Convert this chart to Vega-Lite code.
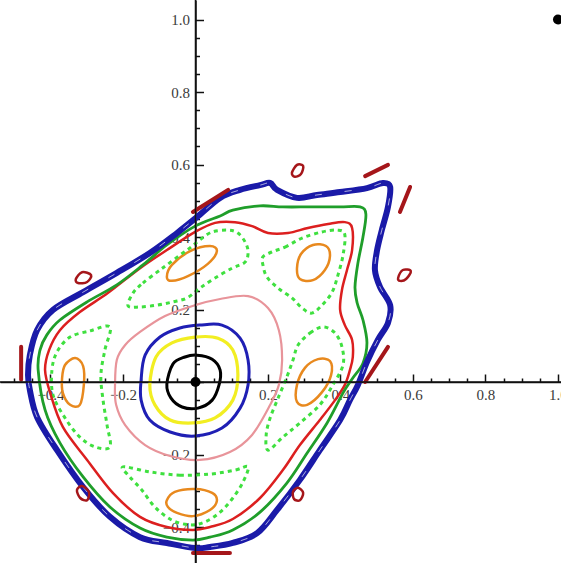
{
  "$schema": "https://vega.github.io/schema/vega-lite/v6.json",
  "width": 561,
  "height": 563,
  "autosize": "none",
  "padding": 0,
  "background": "white",
  "config": {"view": {"stroke": null}, "axis": {"labelFontSize": 15, "labelFont": "Liberation Serif"}},
  "datasets": {
    "black": [
      {"i":0,"x":-0.079,"y":-0.006},{"i":1,"x":-0.062,"y":0.050},{"i":2,"x":-0.029,"y":0.069},{"i":3,"x":0.004,"y":0.074},{"i":4,"x":0.046,"y":0.063},{"i":5,"x":0.068,"y":0.033},{"i":6,"x":0.065,"y":-0.008},{"i":7,"x":0.046,"y":-0.050},{"i":8,"x":0.007,"y":-0.072},{"i":9,"x":-0.037,"y":-0.069},{"i":10,"x":-0.068,"y":-0.044},{"i":11,"x":-0.079,"y":-0.006}
    ],
    "yellow": [
      {"i":0,"x":-0.126,"y":-0.008},{"i":1,"x":-0.109,"y":0.069},{"i":2,"x":-0.065,"y":0.108},{"i":3,"x":-0.001,"y":0.124},{"i":4,"x":0.062,"y":0.121},{"i":5,"x":0.103,"y":0.088},{"i":6,"x":0.117,"y":0.019},{"i":7,"x":0.103,"y":-0.050},{"i":8,"x":0.054,"y":-0.099},{"i":9,"x":-0.007,"y":-0.113},{"i":10,"x":-0.070,"y":-0.105},{"i":11,"x":-0.112,"y":-0.063},{"i":12,"x":-0.126,"y":-0.008}
    ],
    "blueIn": [
      {"i":0,"x":-0.150,"y":0.006},{"i":1,"x":-0.139,"y":0.074},{"i":2,"x":-0.098,"y":0.124},{"i":3,"x":-0.043,"y":0.149},{"i":4,"x":0.012,"y":0.157},{"i":5,"x":0.073,"y":0.157},{"i":6,"x":0.123,"y":0.121},{"i":7,"x":0.145,"y":0.061},{"i":8,"x":0.145,"y":-0.008},{"i":9,"x":0.123,"y":-0.072},{"i":10,"x":0.073,"y":-0.127},{"i":11,"x":-0.001,"y":-0.149},{"i":12,"x":-0.070,"y":-0.138},{"i":13,"x":-0.126,"y":-0.105},{"i":14,"x":-0.150,"y":-0.050},{"i":15,"x":-0.150,"y":0.006}
    ],
    "pink": [
      {"i":0,"x":-0.222,"y":-0.008},{"i":1,"x":-0.217,"y":0.061},{"i":2,"x":-0.194,"y":0.102},{"i":3,"x":-0.153,"y":0.138},{"i":4,"x":-0.084,"y":0.182},{"i":5,"x":-0.001,"y":0.212},{"i":6,"x":0.068,"y":0.229},{"i":7,"x":0.145,"y":0.237},{"i":8,"x":0.200,"y":0.204},{"i":9,"x":0.230,"y":0.143},{"i":10,"x":0.239,"y":0.061},{"i":11,"x":0.230,"y":-0.008},{"i":12,"x":0.206,"y":-0.063},{"i":13,"x":0.156,"y":-0.146},{"i":14,"x":0.095,"y":-0.193},{"i":15,"x":0.012,"y":-0.215},{"i":16,"x":-0.070,"y":-0.204},{"i":17,"x":-0.139,"y":-0.174},{"i":18,"x":-0.194,"y":-0.119},{"i":19,"x":-0.219,"y":-0.063},{"i":20,"x":-0.222,"y":-0.008}
    ],
    "orange": [
      {"id":1,"i":0,"x":-0.079,"y":0.290},{"id":1,"i":1,"x":-0.065,"y":0.323},{"id":1,"i":2,"x":-0.015,"y":0.361},{"id":1,"i":3,"x":0.040,"y":0.375},{"id":1,"i":4,"x":0.059,"y":0.361},{"id":1,"i":5,"x":0.034,"y":0.326},{"id":1,"i":6,"x":-0.021,"y":0.292},{"id":1,"i":7,"x":-0.065,"y":0.279},{"id":1,"i":8,"x":-0.079,"y":0.290},
      {"id":2,"i":0,"x":0.280,"y":0.314},{"id":2,"i":1,"x":0.291,"y":0.353},{"id":2,"i":2,"x":0.324,"y":0.378},{"id":2,"i":3,"x":0.360,"y":0.375},{"id":2,"i":4,"x":0.371,"y":0.348},{"id":2,"i":5,"x":0.357,"y":0.309},{"id":2,"i":6,"x":0.324,"y":0.281},{"id":2,"i":7,"x":0.288,"y":0.284},{"id":2,"i":8,"x":0.280,"y":0.314},
      {"id":3,"i":0,"x":-0.368,"y":0.011},{"id":3,"i":1,"x":-0.360,"y":0.047},{"id":3,"i":2,"x":-0.332,"y":0.066},{"id":3,"i":3,"x":-0.310,"y":0.044},{"id":3,"i":4,"x":-0.308,"y":-0.008},{"id":3,"i":5,"x":-0.319,"y":-0.063},{"id":3,"i":6,"x":-0.346,"y":-0.063},{"id":3,"i":7,"x":-0.366,"y":-0.030},{"id":3,"i":8,"x":-0.368,"y":0.011},
      {"id":4,"i":0,"x":0.280,"y":-0.055},{"id":4,"i":1,"x":0.280,"y":-0.008},{"id":4,"i":2,"x":0.302,"y":0.039},{"id":4,"i":3,"x":0.338,"y":0.063},{"id":4,"i":4,"x":0.371,"y":0.058},{"id":4,"i":5,"x":0.374,"y":0.019},{"id":4,"i":6,"x":0.349,"y":-0.028},{"id":4,"i":7,"x":0.308,"y":-0.063},{"id":4,"i":8,"x":0.280,"y":-0.055},
      {"id":5,"i":0,"x":-0.079,"y":-0.326},{"id":5,"i":1,"x":-0.057,"y":-0.303},{"id":5,"i":2,"x":-0.001,"y":-0.295},{"id":5,"i":3,"x":0.046,"y":-0.306},{"id":5,"i":4,"x":0.059,"y":-0.328},{"id":5,"i":5,"x":0.040,"y":-0.353},{"id":5,"i":6,"x":-0.007,"y":-0.370},{"id":5,"i":7,"x":-0.051,"y":-0.361},{"id":5,"i":8,"x":-0.076,"y":-0.345},{"id":5,"i":9,"x":-0.079,"y":-0.326}
    ],
    "dashed": [
      {"id":1,"i":0,"x":-0.186,"y":0.210},{"id":1,"i":1,"x":-0.172,"y":0.246},{"id":1,"i":2,"x":-0.145,"y":0.273},{"id":1,"i":3,"x":-0.106,"y":0.303},{"id":1,"i":4,"x":-0.079,"y":0.323},{"id":1,"i":5,"x":-0.043,"y":0.350},{"id":1,"i":6,"x":-0.015,"y":0.370},{"id":1,"i":7,"x":0.012,"y":0.392},{"id":1,"i":8,"x":0.046,"y":0.414},{"id":1,"i":9,"x":0.090,"y":0.419},{"id":1,"i":10,"x":0.117,"y":0.411},{"id":1,"i":11,"x":0.137,"y":0.386},{"id":1,"i":12,"x":0.145,"y":0.359},{"id":1,"i":13,"x":0.137,"y":0.331},{"id":1,"i":14,"x":0.101,"y":0.314},{"id":1,"i":15,"x":0.054,"y":0.287},{"id":1,"i":16,"x":0.012,"y":0.259},{"id":1,"i":17,"x":-0.023,"y":0.232},{"id":1,"i":18,"x":-0.062,"y":0.221},{"id":1,"i":19,"x":-0.106,"y":0.212},{"id":1,"i":20,"x":-0.153,"y":0.207},{"id":1,"i":21,"x":-0.186,"y":0.210},
      {"id":2,"i":0,"x":0.186,"y":0.345},{"id":2,"i":1,"x":0.211,"y":0.359},{"id":2,"i":2,"x":0.247,"y":0.372},{"id":2,"i":3,"x":0.294,"y":0.397},{"id":2,"i":4,"x":0.349,"y":0.414},{"id":2,"i":5,"x":0.393,"y":0.419},{"id":2,"i":6,"x":0.412,"y":0.406},{"id":2,"i":7,"x":0.407,"y":0.350},{"id":2,"i":8,"x":0.393,"y":0.295},{"id":2,"i":9,"x":0.377,"y":0.248},{"id":2,"i":10,"x":0.349,"y":0.212},{"id":2,"i":11,"x":0.321,"y":0.190},{"id":2,"i":12,"x":0.294,"y":0.204},{"id":2,"i":13,"x":0.266,"y":0.232},{"id":2,"i":14,"x":0.228,"y":0.259},{"id":2,"i":15,"x":0.197,"y":0.290},{"id":2,"i":16,"x":0.186,"y":0.323},{"id":2,"i":17,"x":0.186,"y":0.345},
      {"id":3,"i":0,"x":-0.382,"y":0.083},{"id":3,"i":1,"x":-0.346,"y":0.124},{"id":3,"i":2,"x":-0.291,"y":0.141},{"id":3,"i":3,"x":-0.236,"y":0.152},{"id":3,"i":4,"x":-0.250,"y":0.088},{"id":3,"i":5,"x":-0.261,"y":0.019},{"id":3,"i":6,"x":-0.255,"y":-0.050},{"id":3,"i":7,"x":-0.244,"y":-0.119},{"id":3,"i":8,"x":-0.236,"y":-0.179},{"id":3,"i":9,"x":-0.277,"y":-0.179},{"id":3,"i":10,"x":-0.319,"y":-0.152},{"id":3,"i":11,"x":-0.360,"y":-0.099},{"id":3,"i":12,"x":-0.393,"y":-0.036},{"id":3,"i":13,"x":-0.396,"y":0.033},{"id":3,"i":14,"x":-0.382,"y":0.083},
      {"id":4,"i":0,"x":0.269,"y":0.061},{"id":4,"i":1,"x":0.283,"y":0.102},{"id":4,"i":2,"x":0.316,"y":0.135},{"id":4,"i":3,"x":0.352,"y":0.152},{"id":4,"i":4,"x":0.385,"y":0.135},{"id":4,"i":5,"x":0.404,"y":0.097},{"id":4,"i":6,"x":0.407,"y":0.047},{"id":4,"i":7,"x":0.379,"y":-0.008},{"id":4,"i":8,"x":0.343,"y":-0.063},{"id":4,"i":9,"x":0.288,"y":-0.113},{"id":4,"i":10,"x":0.241,"y":-0.152},{"id":4,"i":11,"x":0.200,"y":-0.188},{"id":4,"i":12,"x":0.195,"y":-0.146},{"id":4,"i":13,"x":0.206,"y":-0.099},{"id":4,"i":14,"x":0.228,"y":-0.044},{"id":4,"i":15,"x":0.252,"y":0.014},{"id":4,"i":16,"x":0.269,"y":0.061},
      {"id":5,"i":0,"x":-0.200,"y":-0.234},{"id":5,"i":1,"x":-0.126,"y":-0.248},{"id":5,"i":2,"x":-0.043,"y":-0.257},{"id":5,"i":3,"x":0.040,"y":-0.254},{"id":5,"i":4,"x":0.109,"y":-0.243},{"id":5,"i":5,"x":0.145,"y":-0.234},{"id":5,"i":6,"x":0.131,"y":-0.276},{"id":5,"i":7,"x":0.103,"y":-0.320},{"id":5,"i":8,"x":0.068,"y":-0.359},{"id":5,"i":9,"x":0.026,"y":-0.386},{"id":5,"i":10,"x":-0.015,"y":-0.394},{"id":5,"i":11,"x":-0.065,"y":-0.381},{"id":5,"i":12,"x":-0.112,"y":-0.345},{"id":5,"i":13,"x":-0.148,"y":-0.298},{"id":5,"i":14,"x":-0.181,"y":-0.262},{"id":5,"i":15,"x":-0.200,"y":-0.234}
    ],
    "red": [
      {"i":0,"x":-0.415,"y":0.033},{"i":1,"x":-0.404,"y":0.088},{"i":2,"x":-0.374,"y":0.143},{"i":3,"x":-0.319,"y":0.193},{"i":4,"x":-0.241,"y":0.246},{"i":5,"x":-0.153,"y":0.314},{"i":6,"x":-0.079,"y":0.364},{"i":7,"x":-0.001,"y":0.414},{"i":8,"x":0.054,"y":0.439},{"i":9,"x":0.109,"y":0.441},{"i":10,"x":0.156,"y":0.430},{"i":11,"x":0.200,"y":0.411},{"i":12,"x":0.255,"y":0.411},{"i":13,"x":0.310,"y":0.425},{"i":14,"x":0.366,"y":0.436},{"i":15,"x":0.412,"y":0.441},{"i":16,"x":0.432,"y":0.425},{"i":17,"x":0.432,"y":0.364},{"i":18,"x":0.418,"y":0.309},{"i":19,"x":0.404,"y":0.254},{"i":20,"x":0.399,"y":0.199},{"i":21,"x":0.412,"y":0.157},{"i":22,"x":0.432,"y":0.116},{"i":23,"x":0.434,"y":0.069},{"i":24,"x":0.426,"y":0.033},{"i":25,"x":0.412,"y":-0.008},{"i":26,"x":0.385,"y":-0.050},{"i":27,"x":0.343,"y":-0.105},{"i":28,"x":0.288,"y":-0.174},{"i":29,"x":0.241,"y":-0.243},{"i":30,"x":0.178,"y":-0.320},{"i":31,"x":0.103,"y":-0.378},{"i":32,"x":0.040,"y":-0.400},{"i":33,"x":-0.007,"y":-0.408},{"i":34,"x":-0.079,"y":-0.400},{"i":35,"x":-0.153,"y":-0.372},{"i":36,"x":-0.228,"y":-0.306},{"i":37,"x":-0.299,"y":-0.215},{"i":38,"x":-0.366,"y":-0.124},{"i":39,"x":-0.401,"y":-0.030},{"i":40,"x":-0.415,"y":0.033}
    ],
    "green": [
      {"i":0,"x":-0.434,"y":0.033},{"i":1,"x":-0.429,"y":0.088},{"i":2,"x":-0.410,"y":0.130},{"i":3,"x":-0.374,"y":0.171},{"i":4,"x":-0.299,"y":0.221},{"i":5,"x":-0.217,"y":0.268},{"i":6,"x":-0.145,"y":0.323},{"i":7,"x":-0.079,"y":0.378},{"i":8,"x":-0.001,"y":0.430},{"i":9,"x":0.068,"y":0.458},{"i":10,"x":0.103,"y":0.474},{"i":11,"x":0.178,"y":0.486},{"i":12,"x":0.241,"y":0.483},{"i":13,"x":0.316,"y":0.483},{"i":14,"x":0.399,"y":0.483},{"i":15,"x":0.454,"y":0.483},{"i":16,"x":0.470,"y":0.463},{"i":17,"x":0.462,"y":0.400},{"i":18,"x":0.448,"y":0.328},{"i":19,"x":0.440,"y":0.262},{"i":20,"x":0.446,"y":0.218},{"i":21,"x":0.462,"y":0.171},{"i":22,"x":0.473,"y":0.108},{"i":23,"x":0.462,"y":0.052},{"i":24,"x":0.434,"y":0.011},{"i":25,"x":0.407,"y":-0.030},{"i":26,"x":0.363,"y":-0.113},{"i":27,"x":0.308,"y":-0.196},{"i":28,"x":0.252,"y":-0.279},{"i":29,"x":0.178,"y":-0.359},{"i":30,"x":0.103,"y":-0.408},{"i":31,"x":0.040,"y":-0.428},{"i":32,"x":-0.007,"y":-0.436},{"i":33,"x":-0.079,"y":-0.428},{"i":34,"x":-0.153,"y":-0.403},{"i":35,"x":-0.236,"y":-0.345},{"i":36,"x":-0.310,"y":-0.262},{"i":37,"x":-0.374,"y":-0.168},{"i":38,"x":-0.415,"y":-0.077},{"i":39,"x":-0.434,"y":0.033}
    ],
    "blueOut": [
      {"i":0,"x":-0.462,"y":0.019},{"i":1,"x":-0.457,"y":0.074},{"i":2,"x":-0.437,"y":0.143},{"i":3,"x":-0.393,"y":0.199},{"i":4,"x":-0.310,"y":0.248},{"i":5,"x":-0.217,"y":0.301},{"i":6,"x":-0.126,"y":0.356},{"i":7,"x":-0.051,"y":0.411},{"i":8,"x":0.004,"y":0.455},{"i":9,"x":0.068,"y":0.508},{"i":10,"x":0.123,"y":0.530},{"i":11,"x":0.178,"y":0.543},{"i":12,"x":0.206,"y":0.549},{"i":13,"x":0.225,"y":0.530},{"i":14,"x":0.280,"y":0.508},{"i":15,"x":0.335,"y":0.516},{"i":16,"x":0.399,"y":0.524},{"i":17,"x":0.473,"y":0.535},{"i":18,"x":0.517,"y":0.549},{"i":19,"x":0.537,"y":0.538},{"i":20,"x":0.531,"y":0.483},{"i":21,"x":0.514,"y":0.419},{"i":22,"x":0.501,"y":0.364},{"i":23,"x":0.495,"y":0.309},{"i":24,"x":0.509,"y":0.262},{"i":25,"x":0.537,"y":0.212},{"i":26,"x":0.531,"y":0.163},{"i":27,"x":0.503,"y":0.116},{"i":28,"x":0.473,"y":0.055},{"i":29,"x":0.448,"y":-0.008},{"i":30,"x":0.426,"y":-0.050},{"i":31,"x":0.399,"y":-0.105},{"i":32,"x":0.343,"y":-0.188},{"i":33,"x":0.288,"y":-0.270},{"i":34,"x":0.225,"y":-0.353},{"i":35,"x":0.170,"y":-0.417},{"i":36,"x":0.103,"y":-0.444},{"i":37,"x":0.040,"y":-0.455},{"i":38,"x":-0.001,"y":-0.458},{"i":39,"x":-0.079,"y":-0.444},{"i":40,"x":-0.153,"y":-0.428},{"i":41,"x":-0.236,"y":-0.372},{"i":42,"x":-0.310,"y":-0.290},{"i":43,"x":-0.382,"y":-0.188},{"i":44,"x":-0.437,"y":-0.097},{"i":45,"x":-0.457,"y":-0.022},{"i":46,"x":-0.462,"y":0.019}
    ],
    "maroonLoops": [
      {"id":1,"i":0,"x":-0.330,"y":0.284},{"id":1,"i":1,"x":-0.313,"y":0.303},{"id":1,"i":2,"x":-0.288,"y":0.295},{"id":1,"i":3,"x":-0.299,"y":0.276},{"id":1,"i":4,"x":-0.324,"y":0.273},{"id":1,"i":5,"x":-0.330,"y":0.284},
      {"id":2,"i":0,"x":0.266,"y":0.577},{"id":2,"i":1,"x":0.280,"y":0.599},{"id":2,"i":2,"x":0.297,"y":0.596},{"id":2,"i":3,"x":0.291,"y":0.574},{"id":2,"i":4,"x":0.274,"y":0.566},{"id":2,"i":5,"x":0.266,"y":0.577},
      {"id":3,"i":0,"x":0.559,"y":0.287},{"id":3,"i":1,"x":0.572,"y":0.309},{"id":3,"i":2,"x":0.594,"y":0.306},{"id":3,"i":3,"x":0.581,"y":0.284},{"id":3,"i":4,"x":0.564,"y":0.279},{"id":3,"i":5,"x":0.559,"y":0.287},
      {"id":4,"i":0,"x":0.269,"y":-0.303},{"id":4,"i":1,"x":0.283,"y":-0.292},{"id":4,"i":2,"x":0.297,"y":-0.306},{"id":4,"i":3,"x":0.288,"y":-0.326},{"id":4,"i":4,"x":0.272,"y":-0.323},{"id":4,"i":5,"x":0.269,"y":-0.303},
      {"id":5,"i":0,"x":-0.327,"y":-0.298},{"id":5,"i":1,"x":-0.313,"y":-0.287},{"id":5,"i":2,"x":-0.294,"y":-0.303},{"id":5,"i":3,"x":-0.299,"y":-0.326},{"id":5,"i":4,"x":-0.318,"y":-0.320},{"id":5,"i":5,"x":-0.327,"y":-0.298}
    ],
    "maroonBars": [
      {"id":1,"i":0,"x":-0.481,"y":0.097},{"id":1,"i":1,"x":-0.481,"y":0.006},
      {"id":2,"i":0,"x":-0.007,"y":0.469},{"id":2,"i":1,"x":0.090,"y":0.530},
      {"id":3,"i":0,"x":0.468,"y":0.568},{"id":3,"i":1,"x":0.531,"y":0.599},
      {"id":4,"i":0,"x":0.564,"y":0.469},{"id":4,"i":1,"x":0.592,"y":0.538},
      {"id":5,"i":0,"x":0.468,"y":0.000},{"id":5,"i":1,"x":0.531,"y":0.097},
      {"id":6,"i":0,"x":-0.007,"y":-0.472},{"id":6,"i":1,"x":0.095,"y":-0.472}
    ],
    "dots": [
      {"x":0,"y":0},{"x":1.0,"y":1.0}
    ],
    "axisX": [{"x":0}],
    "axisY": [{"y":0}]
  },
  "encoding": {
    "x": {
      "field": "x", "type": "quantitative",
      "scale": {"domain": [-0.5393, 1.0083], "nice": false, "zero": false},
      "axis": {
        "orient": "bottom", "offset": -181, "title": null, "grid": false,
        "values": [-0.5,-0.45,-0.4,-0.35,-0.3,-0.25,-0.2,-0.15,-0.1,-0.05,0,0.05,0.1,0.15,0.2,0.25,0.3,0.35,0.4,0.45,0.5,0.55,0.6,0.65,0.7,0.75,0.8,0.85,0.9,0.95,1.0],
        "labelExpr": "abs(datum.value) < 0.001 || abs(datum.value*5 - round(datum.value*5)) > 0.001 ? '' : format(datum.value, '.1f')",
        "tickSize": {"condition": {"test": "abs(datum.value*5 - round(datum.value*5)) < 0.001", "value": -8}, "value": -4},
        "tickColor": "#111", "domainColor": "#111", "domainWidth": 1.5, "tickWidth": 1.5,
        "labelFont": "Liberation Serif", "labelFontSize": 15, "labelColor": "#3a3a3a",
        "labelPadding": 13, "labelOverlap": false, "labelFlush": false, "zindex": 0
      }
    },
    "y": {
      "field": "y", "type": "quantitative",
      "scale": {"domain": [-0.4993, 1.0538], "nice": false, "zero": false},
      "axis": {
        "orient": "left", "offset": -195.5, "title": null, "grid": false,
        "values": [-0.45,-0.4,-0.35,-0.3,-0.25,-0.2,-0.15,-0.1,-0.05,0,0.05,0.1,0.15,0.2,0.25,0.3,0.35,0.4,0.45,0.5,0.55,0.6,0.65,0.7,0.75,0.8,0.85,0.9,0.95,1.0],
        "labelExpr": "abs(datum.value) < 0.001 || abs(datum.value*5 - round(datum.value*5)) > 0.001 ? '' : format(datum.value, '.1f')",
        "tickSize": {"condition": {"test": "abs(datum.value*5 - round(datum.value*5)) < 0.001", "value": -8}, "value": -4},
        "tickColor": "#111", "domainColor": "#111", "domainWidth": 1.5, "tickWidth": 1.5,
        "labelFont": "Liberation Serif", "labelFontSize": 15, "labelColor": "#3a3a3a",
        "labelPadding": 14, "labelOverlap": false, "labelFlush": false, "zindex": 0
      }
    }
  },
  "layer": [
    {"data": {"name": "pink"}, "transform": [{"filter": "datum.i > 0"}], "mark": {"type": "line", "color": "#e8949a", "strokeWidth": 2.2, "interpolate": "cardinal-closed"}, "encoding": {"order": {"field": "i"}}},
    {"data": {"name": "blueIn"}, "transform": [{"filter": "datum.i > 0"}], "mark": {"type": "line", "color": "#1f1fb4", "strokeWidth": 3, "interpolate": "cardinal-closed"}, "encoding": {"order": {"field": "i"}}},
    {"data": {"name": "yellow"}, "transform": [{"filter": "datum.i > 0"}], "mark": {"type": "line", "color": "#f2ee22", "strokeWidth": 3.2, "interpolate": "cardinal-closed"}, "encoding": {"order": {"field": "i"}}},
    {"data": {"name": "black"}, "transform": [{"filter": "datum.i > 0"}], "mark": {"type": "line", "color": "#000000", "strokeWidth": 3, "interpolate": "cardinal-closed"}, "encoding": {"order": {"field": "i"}}},
    {"data": {"name": "orange"}, "transform": [{"filter": "datum.i > 0"}], "mark": {"type": "line", "color": "#e8891e", "strokeWidth": 2.5, "interpolate": "cardinal-closed"}, "encoding": {"order": {"field": "i"}, "detail": {"field": "id"}}},
    {"data": {"name": "dashed"}, "transform": [{"filter": "datum.i > 0"}], "mark": {"type": "line", "color": "#3fe03f", "strokeWidth": 3, "strokeDash": [4, 4], "interpolate": "cardinal-closed"}, "encoding": {"order": {"field": "i"}, "detail": {"field": "id"}}},
    {"data": {"name": "red"}, "transform": [{"filter": "datum.i > 0"}], "mark": {"type": "line", "color": "#dc1f1f", "strokeWidth": 2.5, "interpolate": "cardinal-closed"}, "encoding": {"order": {"field": "i"}}},
    {"data": {"name": "green"}, "transform": [{"filter": "datum.i > 0"}], "mark": {"type": "line", "color": "#1f9e2a", "strokeWidth": 2.8, "interpolate": "cardinal-closed"}, "encoding": {"order": {"field": "i"}}},
    {"data": {"name": "blueOut"}, "transform": [{"filter": "datum.i > 0"}], "mark": {"type": "line", "color": "#1a1aa8", "strokeWidth": 6, "interpolate": "cardinal-closed"}, "encoding": {"order": {"field": "i"}}},
    {"data": {"name": "blueOut"}, "transform": [{"filter": "datum.i > 0"}], "mark": {"type": "line", "color": "#ffffff", "strokeWidth": 0.8, "strokeDash": [7, 23], "opacity": 0.8, "interpolate": "cardinal-closed"}, "encoding": {"order": {"field": "i"}}},
    {"data": {"name": "maroonLoops"}, "transform": [{"filter": "datum.i > 0"}], "mark": {"type": "line", "color": "#a5161a", "strokeWidth": 2.5, "interpolate": "cardinal-closed"}, "encoding": {"order": {"field": "i"}, "detail": {"field": "id"}}},
    {"data": {"name": "maroonBars"}, "mark": {"type": "line", "color": "#a5161a", "strokeWidth": 4, "strokeCap": "round"}, "encoding": {"order": {"field": "i"}, "detail": {"field": "id"}}},
    {"data": {"name": "axisX"}, "mark": {"type": "rule", "color": "#111", "strokeWidth": 1.5}, "encoding": {"y": null}},
    {"data": {"name": "axisY"}, "mark": {"type": "rule", "color": "#111", "strokeWidth": 1.5}, "encoding": {"x": null}},
    {"data": {"name": "dots"}, "mark": {"type": "point", "filled": true, "color": "#000000", "size": 100, "opacity": 1}}
  ]
}
